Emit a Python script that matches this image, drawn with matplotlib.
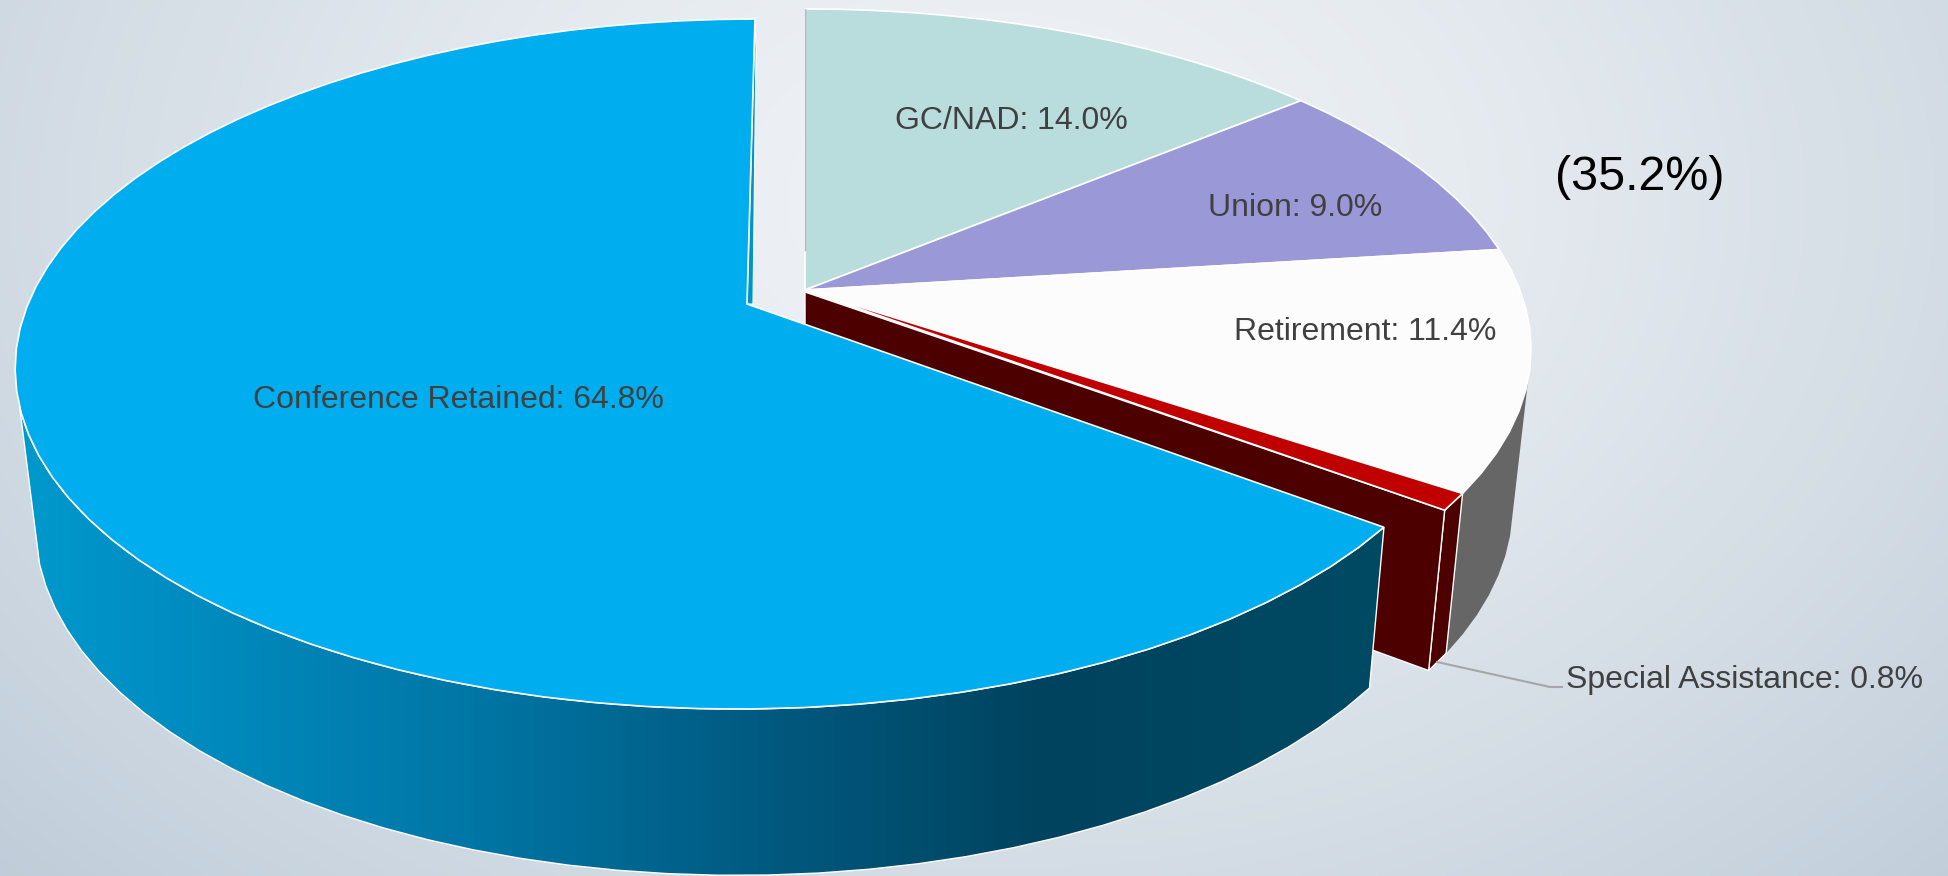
import numpy as np
import matplotlib
matplotlib.use('Agg')
import matplotlib.pyplot as plt
from matplotlib.colors import LinearSegmentedColormap
from matplotlib.patches import Polygon

plt.rcParams['font.family'] = ['Liberation Sans', 'DejaVu Sans']

# slice order clockwise from 12 o'clock, Conference Retained is pulled away from the rest
names = ['GC/NAD', 'Union', 'Retirement', 'Special Assistance', 'Conference Retained']
shares = [14.0, 9.0, 11.4, 0.8, 64.8]
top_colors = ['#b9dcdd', '#9b98d8', '#fcfcfc', '#c00000', '#00aeef']
group_note = '(35.2%)'

W, H = 1949, 876
K = 0.174      # perspective of the pie plane
XC = 809       # vanishing x of the extrusion


def project(theta, apex, bx, ay, shear):
    t = np.radians(theta)
    X, Y = np.sin(t), np.cos(t)
    w = 1 + K * Y
    return apex[0] + (bx * X + shear * Y) / w, apex[1] - ay * Y / w


def drop(x, y):
    # top rim -> bottom rim
    return x - (x - XC) * 0.0252, y + 157 + (y - 400) * 0.03


def arc(a, b, geo, step=3.5):
    n = max(2, int(abs(b - a) / step) + 2)
    th = np.linspace(a, b, n)
    return np.array(project(th, *geo)).T


def wedge_top(a, b, geo):
    return np.vstack([[geo[0]], arc(a, b, geo)])


def wall(a, b, geo):
    top = arc(a, b, geo)
    low = np.array(drop(top[:, 0], top[:, 1])).T
    return np.vstack([top, low[::-1]])


fig = plt.figure(figsize=(W / 100, H / 100), dpi=100)
ax = fig.add_axes([0, 0, 1, 1])
ax.set_xlim(0, W)
ax.set_ylim(H, 0)
ax.axis('off')

# background
yy, xx = np.mgrid[0:H:2, 0:W:2]
r = np.sqrt(((xx - 1000) / 1400) ** 2 + ((yy - 200) / 1000) ** 2)
bg = LinearSegmentedColormap.from_list('bg', ['#f1f4f8', '#e6ebf0', '#d4dde5', '#bfccd9'])
ax.imshow(np.clip(r, 0, 1), cmap=bg, vmin=0, vmax=1, extent=(0, W, H, 0), aspect='auto', zorder=0)

edges = np.cumsum([0] + shares) * 3.6
rest_geo = ((805, 290), 715, 330, 0)
main_geo = ((747, 304), 719, 334.6, 9.4)

# pulled group: walls first
ax.add_patch(Polygon(wall(105, edges[3], rest_geo), fc='#666666', ec='none', zorder=1))
ax.add_patch(Polygon(wall(edges[3], edges[4], rest_geo), fc='#4d0000', ec='white', lw=1, zorder=2))
ox, oy = project(edges[4], *rest_geo)
ox2, oy2 = drop(ox, oy)
ax2, ay2 = drop(805, 290)
ax.add_patch(Polygon([(805, 292), (ox, oy), (ox2, oy2), (ax2, ay2)], fc='#4d0000', ec='white', lw=1, zorder=2))

for i in range(4):
    ax.add_patch(Polygon(wedge_top(edges[i], edges[i + 1], rest_geo), fc=top_colors[i], ec='white', lw=1.2, zorder=3))
tx, ty = project(0, *rest_geo)
ax.plot([tx, 805], [ty, 250], color='#b4b8bc', lw=1, zorder=4)

# conference wall with gradient
wall_cmap = LinearSegmentedColormap.from_list('w', [(0, '#0099cc'), (0.08, '#0090c5'), (0.33, '#0076a5'),
                                                    (0.55, '#00597f'), (0.75, '#00435e'), (1, '#004a64')])
grad = np.linspace(0, 1, 512)[None, :]
im = ax.imshow(grad, cmap=wall_cmap, extent=(20, 1390, H, 0), aspect='auto', zorder=5)
pts = wall(edges[4], 253, main_geo)
wp = Polygon(pts, fc='none', ec='white', lw=1, zorder=6)
ax.add_patch(wp)
im.set_clip_path(wp)
ax.set_xlim(0, W)
ax.set_ylim(H, 0)

# thin inner wall at the start of the conference slice
sx, sy = project(360, *main_geo)
ax.add_patch(Polygon([(747, 304), (sx, sy), (sx + 1, sy + 30), (753, 304)], fc='#0095c8', ec='white', lw=0.8, zorder=6))
ax.add_patch(Polygon(wedge_top(edges[4], 360, main_geo), fc=top_colors[4], ec='white', lw=1.2, zorder=7))

# labels
label_pos = [(1011, 121), (1295, 208), (1365, 332), (1566, 680), (458, 400)]
for i in range(5):
    ha = 'left' if i == 3 else 'center'
    ax.text(label_pos[i][0], label_pos[i][1], '%s: %.1f%%' % (names[i], shares[i]), color='#404040',
            fontsize=23, ha=ha, va='center', zorder=9)
ax.plot([1437, 1550, 1562], [662, 687, 687], color='#a6a6a6', lw=1.5, zorder=8)
ax.text(1640, 177, group_note, color='black', fontsize=34.8, ha='center', va='center', zorder=9)

fig.savefig('out.png', dpi=100)
